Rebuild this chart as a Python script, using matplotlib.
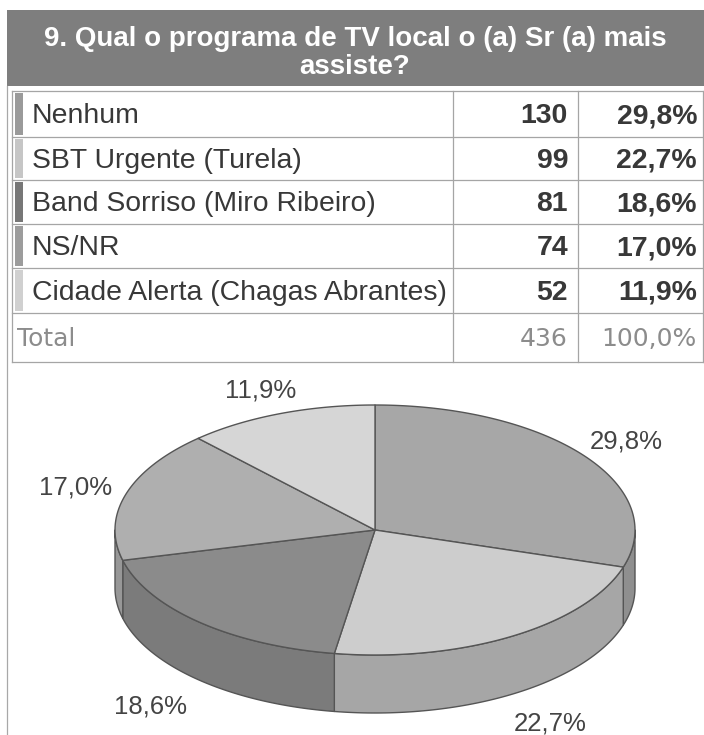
import numpy as np
import matplotlib
matplotlib.use("Agg")
import matplotlib.pyplot as plt

# data
title = "9. Qual o programa de TV local o (a) Sr (a) mais\nassiste?"
labels = ["Nenhum", "SBT Urgente (Turela)", "Band Sorriso (Miro Ribeiro)",
          "NS/NR", "Cidade Alerta (Chagas Abrantes)"]
counts = [130, 99, 81, 74, 52]
pcts = [29.8, 22.7, 18.6, 17.0, 11.9]
total_count = 436
total_pct = 100.0

top_colors = ["#a7a7a7", "#cdcdcd", "#8b8b8b", "#afafaf", "#d6d6d6"]
side_colors = ["#8f8f8f", "#a6a6a6", "#7b7b7b", "#979797", "#b8b8b8"]
marker_colors = ["#9a9a9a", "#c6c6c6", "#777777", "#9c9c9c", "#d0d0d0"]


def fmt(v):
    return f"{v:.1f}%".replace(".", ",")


W, H = 704, 735
fig = plt.figure(figsize=(W / 100, H / 100), dpi=100)
ax = fig.add_axes([0, 0, 1, 1])
ax.set_xlim(0, W)
ax.set_ylim(H, 0)
ax.axis("off")

# title band
ax.add_patch(plt.Rectangle((7, 10), W - 7, 76, facecolor="#7e7e7e", edgecolor="none"))
ax.text(355, 53, title, ha="center", va="center", color="white", fontsize=20,
        fontweight="bold", family="Liberation Sans", linespacing=1.1)

# outer frame line on the left
ax.plot([7, 7], [86, H], color="#a8a8a8", lw=0.9)

# table
row_edges = [91, 137, 180, 224, 268, 313, 362]
col_x = [12, 453, 578, 703]
grid = "#a5a5a5"
for y in row_edges:
    ax.plot([col_x[0], col_x[-1]], [y, y], color=grid, lw=0.9)
for x in col_x:
    ax.plot([x, x], [row_edges[0], row_edges[-1]], color=grid, lw=0.9)

txt = "#383838"
for i, lab in enumerate(labels):
    top, bot = row_edges[i], row_edges[i + 1]
    yc = (top + bot) / 2 + 2
    ax.add_patch(plt.Rectangle((15, top + 2), 8, bot - top - 4,
                               facecolor=marker_colors[i], edgecolor="none"))
    ax.text(32, yc, lab, ha="left", va="center", fontsize=20.4, color=txt,
            family="Liberation Sans")
    ax.text(568, yc, str(counts[i]), ha="right", va="center", fontsize=20.4,
            color=txt, fontweight="bold", family="Liberation Sans")
    ax.text(697, yc, fmt(pcts[i]), ha="right", va="center", fontsize=20.4,
            color=txt, fontweight="bold", family="Liberation Sans")

yc = (row_edges[-2] + row_edges[-1]) / 2 + 1
tot_col = "#8c8c8c"
ax.text(17, yc, "Total", ha="left", va="center", fontsize=18, color=tot_col,
        family="DejaVu Sans")
ax.text(568, yc, str(total_count), ha="right", va="center", fontsize=18,
        color=tot_col, family="DejaVu Sans")
ax.text(697, yc, fmt(total_pct), ha="right", va="center", fontsize=18,
        color=tot_col, family="DejaVu Sans")

# 3d pie, starts at 12 o'clock and goes clockwise
cx, cy, rx, ry, depth = 375, 530, 260, 125, 58
edge = "#555555"
fr = np.array(pcts) / sum(pcts)
starts = 90 - 360 * np.concatenate([[0], np.cumsum(fr)[:-1]])
ends = starts - 360 * fr


def pt(t, dy=0):
    t = np.radians(t)
    return cx + rx * np.cos(t), cy - ry * np.sin(t) + dy


# sides: only the front half (angles between -180 and 0) is visible
for i in range(len(pcts)):
    a, b = starts[i], ends[i]
    for lo_f, hi_f in [(-180, 0), (-540, -360)]:
        hi = min(a, hi_f)
        lo = max(b, lo_f)
        if hi <= lo:
            continue
        t = np.linspace(hi, lo, 80)
        x1, y1 = pt(t)
        x2, y2 = pt(t[::-1], depth)
        ax.fill(np.r_[x1, x2], np.r_[y1, y2], facecolor=side_colors[i],
                edgecolor=edge, lw=1.0, joinstyle="round")

# tops
for i in range(len(pcts)):
    t = np.linspace(starts[i], ends[i], 120)
    x, y = pt(t)
    ax.fill(np.r_[cx, x], np.r_[cy, y], facecolor=top_colors[i],
            edgecolor=edge, lw=1.0, joinstyle="round")

# percentage labels around the pie
for i in range(len(pcts)):
    m = (starts[i] + ends[i]) / 2
    lx, ly = pt(m)
    front = np.sin(np.radians(m)) < 0
    k = 1.28 if front else 1.2
    lx = cx + (lx - cx) * k
    ly = cy + (ly - cy) * k
    if front:
        ly += depth
    ax.text(lx, ly, fmt(pcts[i]), ha="center", va="center", fontsize=18.5,
            color="#444444", family="Liberation Sans")

fig.savefig("out.png", dpi=100)
